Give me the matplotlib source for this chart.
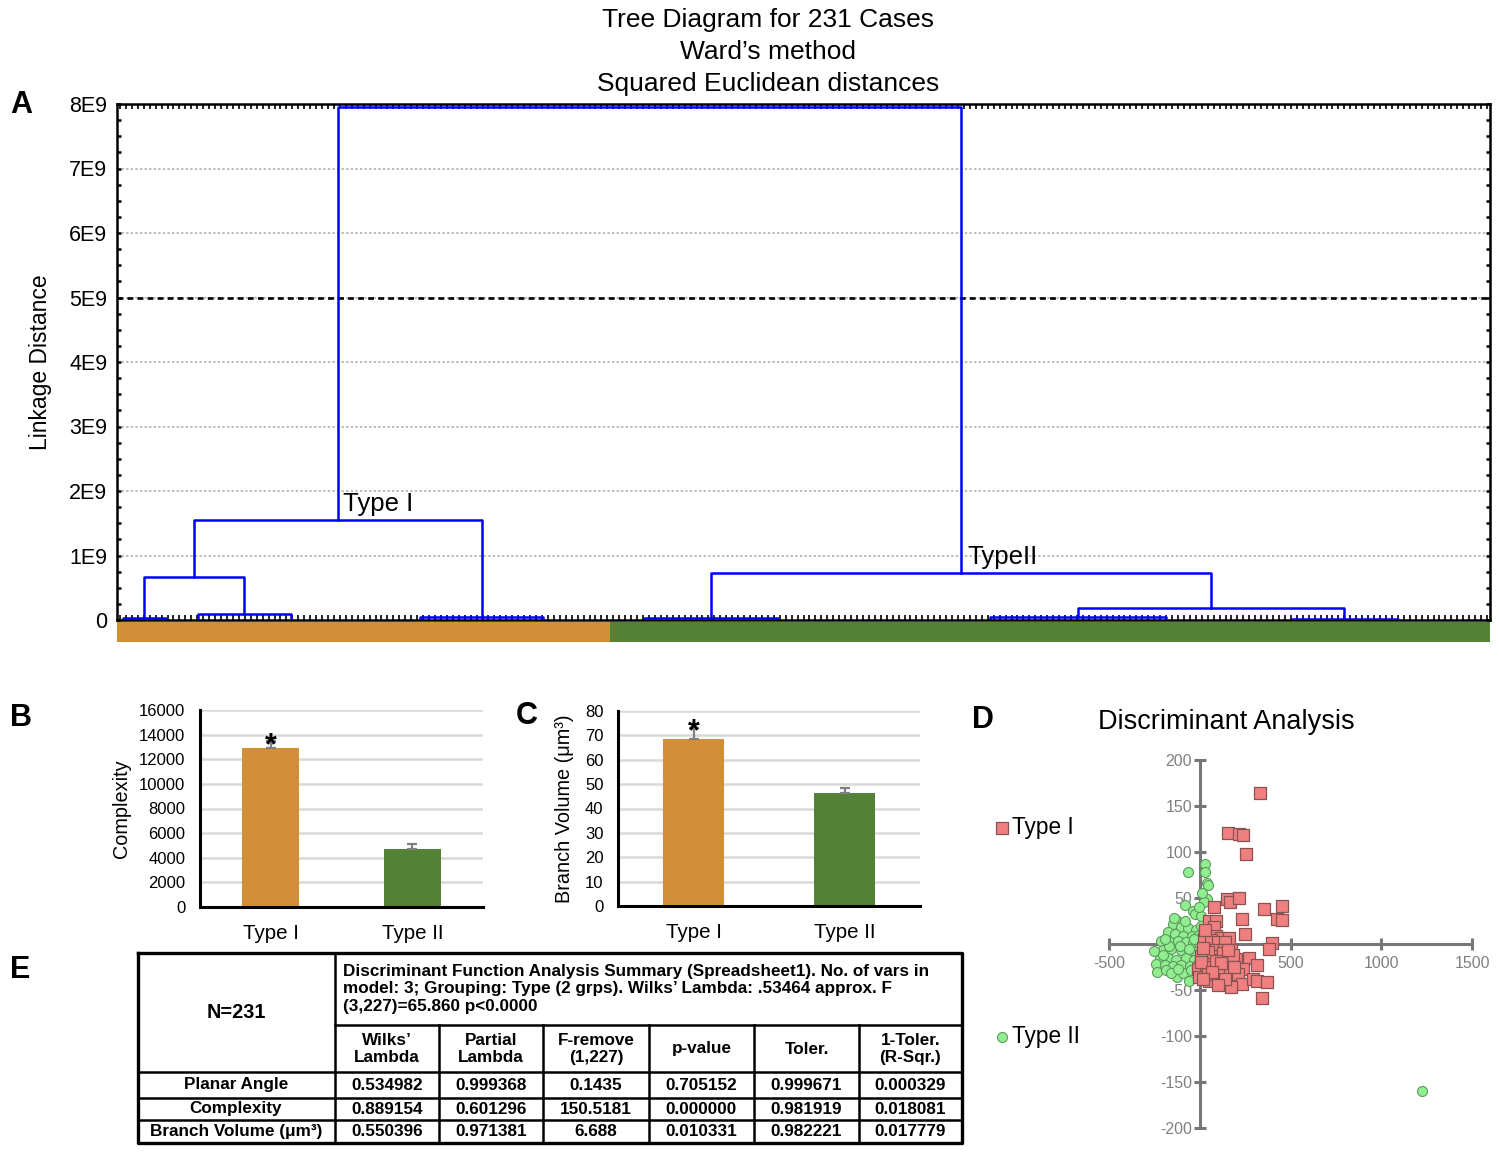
import numpy as np
import matplotlib
matplotlib.use('Agg')
import matplotlib.pyplot as plt

plt.rcParams['font.family'] = ['Liberation Sans', 'DejaVu Sans']
plt.rcParams['axes.unicode_minus'] = False

# ---------- A: tree diagram ----------
n_cases = 231
group_names = ['Type I', 'Type II']
group_sizes = [83, 148]
group_colors = ['#D38F37', '#538135']

# merges: left/right child position (case index), child heights, merge height (units of 1E9)
link_xl = [0.5, 13.1, 4.1, 50.5, 12.5, 88.2, 146.4, 197.0, 161.2, 99.45, 36.7]
link_xr = [7.7, 28.8, 20.95, 71.2, 60.85, 110.7, 176.0, 215.0, 206.0, 183.6, 141.5]
link_hl = [0, 0, 0.03, 0, 0.66, 0, 0, 0, 0.04, 0.03, 1.55]
link_hr = [0, 0, 0.09, 0, 0.04, 0, 0, 0, 0.015, 0.19, 0.73]
link_h = [0.03, 0.09, 0.66, 0.04, 1.55, 0.03, 0.04, 0.015, 0.19, 0.73, 7.95]
cut_height = 5.0
a_yticks = [0, 1, 2, 3, 4, 5, 6, 7, 8]
a_ytick_labels = ['0', '1E9', '2E9', '3E9', '4E9', '5E9', '6E9', '7E9', '8E9']

# ---------- B / C: bar charts ----------
bar_labels = ['Type I', 'Type II']
complexity = [12900, 4720]
complexity_err = [560, 430]
volume = [68.7, 46.4]
volume_err = [4.5, 2.0]

# ---------- D: discriminant scores ----------
red_x = [331, 153, 214, 236, 254, 150, 168, 214, 77, 354, 451, 427, 451, 235, 53, 91, 76, 252, 91, 117,
         161, 26, 62, 99, 139, 400, 383, 16, 53, 89, 131, 172, 26, 62, 117, 168, 199, 272, 314, -7,
         35, 62, 113, 161, 208, 241, -2, 53, 109, 168, 212, 235, 172, 296, 314, 372, 341, 45, 127, 182,
         9, 91, 45, 118, 155, 18, 5, 30, 70, 140, 190, 100, 20]
red_y = [164, 121, 120, 118, 98, 49, 46, 50, 40, 38, 41, 27, 26, 27, 25, 25, 18, 11, 9, 7,
         7, 5, 4, 2, 2, 1, -5, -6, -6, -7, -6, -7, -15, -13, -17, -17, -16, -15, -23, -27,
         -27, -25, -30, -28, -32, -27, -36, -40, -34, -34, -33, -44, -47, -38, -40, -41, -59, -9, -10, -12,
         -13, -19, -33, -21, -7, -4, -20, 15, -30, -38, -25, -45, -38]
green_x = [31, 31, -66, 40, 47, 40, 26, -84, -38, -26, 7, -130, -148, -102, -62, -20, 7, -175, -135, -93,
           -44, -11, -212, -166, -120, -75, -38, -2, -203, -157, -102, -57, -20, -221, -175, -130, -75, -29, -239, -193,
           -148, -102, -51, -11, -234, -184, -124, -161, -93, -47, 1225, -140, -110, -60, -200, -80, -15, -170, -30, -5,
           -250, -120, -60, -190, 15]
green_y = [87, 78, 78, 66, 64, 49, 46, 42, 36, 33, 30, 26, 22, 19, 17, 15, 20, 13, 11, 9,
           9, 9, 3, 2, 3, 2, 1, 1, -6, -5, -7, -7, -9, -15, -15, -17, -15, -17, -22, -23,
           -24, -23, -24, -22, -30, -28, -36, -32, -31, -28, -160, 28, -2, -40, -12, 25, -32, -2, 5, 40,
           -8, -27, -5, 5, 55]
d_xticks = [-500, 500, 1000, 1500]
d_yticks = [-200, -150, -100, -50, 50, 100, 150, 200]

# ---------- E: table ----------
tab_n = 'N=231'
tab_title = ('Discriminant Function Analysis Summary (Spreadsheet1). No. of vars in\n'
             'model: 3; Grouping: Type (2 grps). Wilks\u2019 Lambda: .53464 approx. F\n'
             '(3,227)=65.860 p<0.0000')
tab_cols = ['Wilks\u2019\nLambda', 'Partial\nLambda', 'F-remove\n(1,227)', 'p-value', 'Toler.', '1-Toler.\n(R-Sqr.)']
tab_rows = ['Planar Angle', 'Complexity', 'Branch Volume (\u03bcm\u00b3)']
tab_vals = [['0.534982', '0.999368', '0.1435', '0.705152', '0.999671', '0.000329'],
            ['0.889154', '0.601296', '150.5181', '0.000000', '0.981919', '0.018081'],
            ['0.550396', '0.971381', '6.688', '0.010331', '0.982221', '0.017779']]

W, H = 1499, 1157
fig = plt.figure(figsize=(W / 100, H / 100), dpi=100)


def box(l, t, r, b):
    return [l / W, 1 - b / H, (r - l) / W, (b - t) / H]


# ---- panel A ----
axa = fig.add_axes(box(117, 104, 1490, 620))
for xl, xr, hl, hr, h in zip(link_xl, link_xr, link_hl, link_hr, link_h):
    axa.plot([xl, xl, xr, xr], np.array([hl, h, h, hr]) * 1e9, color='#0000FF', lw=1.8, zorder=3)
axa.axhline(cut_height * 1e9, color='black', lw=1.9, ls=(0, (2.2, 1.6)), zorder=2)
axa.set_xlim(-0.5, n_cases - 0.5)
axa.set_ylim(0, 8e9)
axa.set_yticks(np.array(a_yticks) * 1e9)
axa.set_yticklabels(a_ytick_labels, fontsize=15.5)
axa.set_yticks(np.arange(0, 8.01, 0.25) * 1e9, minor=True)
axa.set_xticks(np.arange(n_cases))
axa.tick_params(axis='x', which='major', direction='in', top=True, bottom=True,
                labelbottom=False, length=3.5, width=1.2)
axa.tick_params(axis='y', which='both', direction='in', left=True, right=True, length=3, width=1.8, pad=7)
for g in a_yticks[1:-1]:
    axa.axhline(g * 1e9, color='#A8A8A8', lw=1.1, ls=(0, (1.5, 1.5)), zorder=1)
for s in axa.spines.values():
    s.set_linewidth(1.8)
axa.set_ylabel('Linkage Distance', fontsize=16.5)
axa.yaxis.set_label_coords(-0.047, 0.5)
axa.text(37.5, 1.8e9, 'Type I', fontsize=18.5, va='center', ha='left')
axa.text(142.5, 0.98e9, 'TypeII', fontsize=18.5, va='center', ha='left')

# group bar under the tree
axg = fig.add_axes(box(117, 622, 1490, 642))
starts = np.cumsum([0] + group_sizes[:-1]) - 0.5
axg.barh(0, group_sizes, left=starts, height=1, color=group_colors)
axg.set_xlim(-0.5, n_cases - 0.5)
axg.set_ylim(-0.5, 0.5)
axg.axis('off')

for i, line in enumerate(['Tree Diagram for 231 Cases', 'Ward\u2019s method', 'Squared Euclidean distances']):
    fig.text(768 / W, 1 - (20 + 32 * i) / H, line, ha='center', va='center', fontsize=19)


# ---- panels B, C ----
def bar_panel(ax, vals, errs, ymax, step, ylabel, lab_x):
    x = np.arange(len(vals))
    ax.bar(x, vals, width=0.4, color=group_colors, zorder=2)
    ax.errorbar(x, vals, yerr=[np.zeros(len(errs)), errs], fmt='none', ecolor='#7F7F7F',
                elinewidth=1.6, capsize=3.5, capthick=1.6, zorder=3)
    ax.set_xlim(-0.5, 1.5)
    ax.set_ylim(0, ymax)
    ax.set_yticks(np.arange(0, ymax + step / 2, step))
    ax.set_xticks(x)
    ax.set_xticklabels(bar_labels, fontsize=14.8)
    ax.yaxis.grid(True, color='#D9D9D9', lw=1.8)
    ax.set_axisbelow(True)
    ax.tick_params(axis='x', length=0, pad=12)
    ax.tick_params(axis='y', length=0, labelsize=12, pad=10.5)
    for s in ['top', 'right']:
        ax.spines[s].set_visible(False)
    for s in ['left', 'bottom']:
        ax.spines[s].set_linewidth(2.2)
    ax.set_ylabel(ylabel, fontsize=14.3)
    ax.yaxis.set_label_coords(lab_x, 0.5)
    ax.annotate('*', (0, vals[0] + errs[0]), xytext=(0, -9), textcoords='offset points',
                ha='center', va='baseline', fontsize=22, fontweight='bold')


axb = fig.add_axes(box(200, 710, 483, 907))
bar_panel(axb, complexity, complexity_err, 16000, 2000, 'Complexity', -0.245)
axc = fig.add_axes(box(618, 711, 920, 906))
bar_panel(axc, volume, volume_err, 80, 10, 'Branch Volume (\u03bcm\u00b3)', -0.145)

# ---- panel D ----
axd = fig.add_axes(box(1109, 760, 1472, 1128))
axd.patch.set_alpha(0)
gsc = axd.scatter(green_x, green_y, marker='o', s=52, c='#90EE90', edgecolors='#5E9A5E', linewidths=0.8, zorder=3)
rsc = axd.scatter(red_x, red_y, marker='s', s=72, c='#F08080', edgecolors='#8A5252', linewidths=0.9, zorder=4)
axd.set_xlim(-500, 1500)
axd.set_ylim(-200, 200)
for s in ['top', 'right']:
    axd.spines[s].set_visible(False)
for s in ['left', 'bottom']:
    axd.spines[s].set_position(('data', 0))
    axd.spines[s].set_color('#777777')
    axd.spines[s].set_linewidth(2.2)
axd.set_xticks(d_xticks)
axd.set_yticks(d_yticks)
axd.tick_params(direction='inout', length=9, width=2.2, color='#777777', labelcolor='#808080', labelsize=11.5)
axd.tick_params(axis='x', pad=4)
axd.tick_params(axis='y', pad=1)
fig.text(1226 / W, 1 - 722 / H, 'Discriminant Analysis', ha='center', va='center', fontsize=19.5)
fig.legend([rsc, gsc], group_names, loc='upper left', bbox_to_anchor=(993 / W, 1 - 816 / H),
           frameon=False, fontsize=16.3, labelspacing=8.2, handletextpad=0.05, handlelength=0.8,
           markerscale=1.0, borderaxespad=0, borderpad=0)

# ---- panel E: table ----
tfam, tsize = ['Liberation Sans', 'DejaVu Sans'], 12.3
col_edges = [138, 335, 439, 543, 649, 754, 859, 962]
row_edges = [953, 1025, 1072, 1098, 1120, 1143]
axe = fig.add_axes(box(138, 953, 962, 1143))
axe.set_xlim(138, 962)
axe.set_ylim(1143, 953)
axe.axis('off')
kw = dict(color='black', clip_on=False, solid_capstyle='projecting')
axe.plot([138, 962, 962, 138, 138], [953, 953, 1143, 1143, 953], lw=2.4, **kw)
axe.plot([335, 335], [953, 1143], lw=1.8, **kw)
axe.plot([335, 962], [1025, 1025], lw=1.8, **kw)
for y in row_edges[2:-1]:
    axe.plot([138, 962], [y, y], lw=1.8, **kw)
for x in col_edges[2:-1]:
    axe.plot([x, x], [1025, 1143], lw=1.8, **kw)
tk = dict(family=tfam, fontweight='bold', fontsize=tsize)
axe.text(236, 1013, tab_n, ha='center', va='center', **dict(tk, fontsize=tsize + 2))
axe.text(343, 989, tab_title, ha='left', va='center', linespacing=1.2, **tk)
centers = [(a + b) / 2 for a, b in zip(col_edges[1:-1], col_edges[2:])]
for cx, lab in zip(centers, tab_cols):
    axe.text(cx, 1049, lab, ha='center', va='center', linespacing=1.1, **tk)
for r, (name, vals) in enumerate(zip(tab_rows, tab_vals)):
    cy = (row_edges[r + 2] + row_edges[r + 3]) / 2
    axe.text(236, cy, name, ha='center', va='center', **tk)
    for cx, v in zip(centers, vals):
        axe.text(cx, cy, v, ha='center', va='center', **tk)

# panel letters
for letter, x, y in [('A', 10, 105), ('B', 10, 718), ('C', 516, 716), ('D', 972, 720), ('E', 10, 970)]:
    fig.text(x / W, 1 - y / H, letter, ha='left', va='center', fontsize=22, fontweight='bold')

fig.savefig('out.png', dpi=100)
